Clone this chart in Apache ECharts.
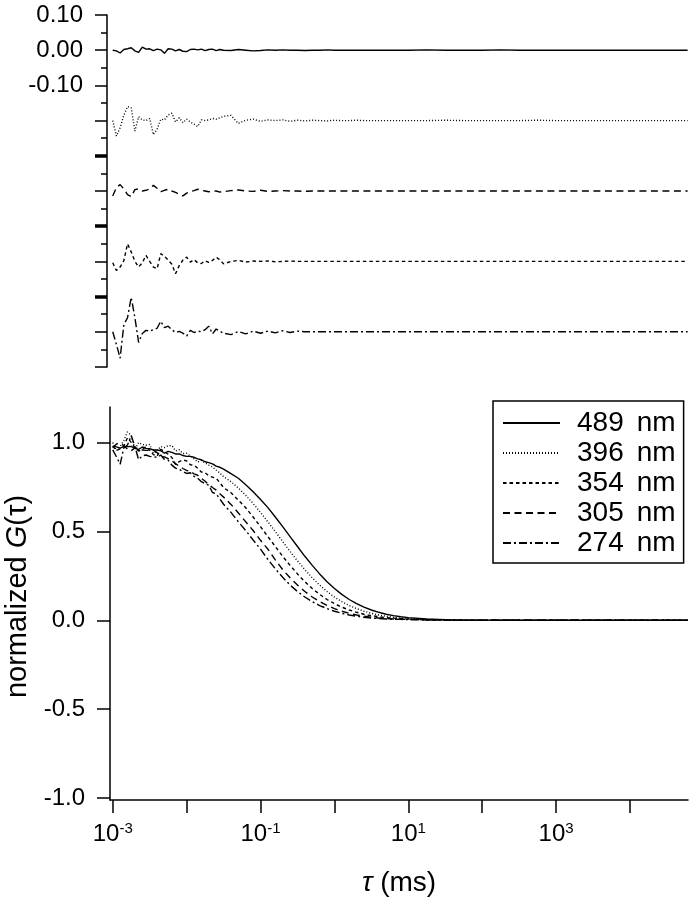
<!DOCTYPE html>
<html>
<head>
<meta charset="utf-8">
<title>normalized G(tau)</title>
<script src="https://cdn.jsdelivr.net/npm/echarts@6/dist/echarts.min.js"></script>
<style>
html, body { margin: 0; padding: 0; background: #fff; }
#main { width: 694px; height: 900px; }
</style>
</head>
<body>
<div id="main"></div>
<script>
// lag time positions, log10(tau / ms)
var tauExp = [-3.00,-2.95,-2.90,-2.85,-2.80,-2.75,-2.70,-2.65,-2.60,-2.55,-2.50,-2.45,-2.40,-2.35,-2.30,-2.25,-2.20,-2.15,-2.10,-2.05,-2.00,-1.95,-1.90,-1.85,-1.80,-1.75,-1.70,-1.65,-1.60,-1.55,-1.50,
  -1.4,-1.3,-1.2,-1.1,-1.0,-0.9,-0.8,-0.7,-0.6,-0.5,-0.4,-0.3,-0.2,-0.1,0,0.1,0.2,0.3,0.4,0.5,0.6,0.7,0.8,0.9,1.0,
  1.25,1.5,1.75,2.0,2.25,2.5,2.75,3.0,3.25,3.5,3.75,4.0,4.25,4.5,4.78];

var names = ['489 nm', '396 nm', '354 nm', '305 nm', '274 nm'];

// normalized G(tau), lower panel
var g489 = [.980,.976,.969,.977,.977,.978,.967,.961,.975,.967,.966,.958,.959,.954,.941,.950,.945,.936,.936,.927,.922,.922,.917,.908,.903,.892,.887,.880,.867,.861,.850,
  .825,.799,.763,.723,.680,.634,.581,.527,.471,.415,.360,.309,.261,.217,.179,.146,.117,.094,.074,.058,.045,.034,.026,.020,.015,
  .007,.003,.001,.001,0,0,0,0,0,0,0,0,0,0,0];
var g396 = [1.000,.955,.978,1.011,1.060,1.040,.961,1.000,.989,.985,.989,.940,.952,.978,.972,.982,.983,.953,.959,.938,.940,.924,.908,.891,.899,.885,.873,.863,.845,.828,.808,
  .780,.744,.703,.657,.607,.554,.499,.443,.387,.334,.285,.239,.198,.162,.131,.105,.083,.066,.051,.039,.030,.023,.017,.013,.010,
  .005,.002,.001,0,0,0,0,0,0,0,0,0,0,0,0];
var g354 = [.980,.956,.965,.981,1.027,1.001,.971,.952,.961,.978,.957,.932,.923,.962,.950,.934,.916,.877,.893,.902,.897,.875,.873,.855,.834,.830,.813,.805,.799,.774,.746,
  .718,.676,.633,.581,.527,.471,.415,.360,.309,.261,.217,.179,.146,.117,.094,.074,.058,.045,.034,.026,.020,.015,.012,.009,.007,
  .003,.001,0,0,0,0,0,0,0,0,0,0,0,0,0];
var g305 = [.970,.992,.997,.982,.963,.954,.970,.968,.958,.956,.956,.957,.943,.922,.919,.910,.898,.881,.867,.854,.843,.838,.824,.816,.799,.782,.763,.747,.732,.712,.693,
  .652,.604,.554,.505,.450,.400,.340,.285,.239,.198,.162,.131,.105,.083,.066,.051,.039,.030,.023,.017,.013,.010,.007,.006,.005,
  .002,.001,0,0,0,0,0,0,0,0,0,0,0,0,0];
var g274 = [.959,.920,.878,.970,.986,1.040,.978,.904,.925,.930,.922,.920,.917,.930,.905,.901,.873,.856,.850,.836,.826,.830,.810,.799,.780,.769,.760,.719,.711,.683,.653,
  .607,.554,.505,.452,.400,.342,.290,.242,.198,.162,.131,.105,.083,.066,.051,.039,.030,.023,.017,.013,.010,.007,.006,.005,.004,
  .002,.001,0,0,0,0,0,0,0,0,0,0,0,0,0];

// fit residuals, upper panel (top to bottom: 489, 396, 305, 354, 274)
var res489 = [0,-.002,-.008,.002,.004,.007,-.002,-.006,.009,.003,.004,-.001,.003,.001,-.009,.004,.003,-.002,.002,-.003,-.004,.002,.003,.001,.003,-.001,.002,.003,-.001,.002,0,
  -.001,.002,0,-.002,-.001,.001,0,.001,0,0,-.001,0,0,.001,0,0,0,0,0,0,0,0,0,0,0,
  .001,0,0,0,.001,0,0,0,0,0,0,0,0,0,0];
var res396 = [0,-.044,-.020,.015,.040,.036,-.030,.011,.002,0,.006,-.040,-.025,.004,.002,.016,.021,-.004,.008,-.006,.004,-.004,-.010,-.017,.002,0,.002,.006,.004,.008,.012,
  .015,-.008,.001,.004,-.002,.002,0,.002,-.002,.001,-.001,.001,0,-.001,.001,0,0,.001,0,0,0,0,0,0,0,
  0,.001,0,0,0,0,.001,0,0,0,0,0,0,0,0];
var res305 = [-.014,.010,.018,.006,-.010,-.016,.004,.006,0,.002,.006,.016,.008,-.002,.002,.005,0,-.004,-.010,-.014,-.006,-.002,.001,.005,.002,0,-.002,-.001,0,-.003,-.002,
  .001,.003,0,-.001,.002,-.001,0,.001,0,0,-.001,0,0,0,0,0,0,0,0,0,0,0,0,0,0,
  0,0,0,0,0,0,0,0,0,0,0,0,0,0,0];
var res354 = [-.004,-.026,-.016,.002,.050,.027,0,-.016,-.004,.017,0,-.016,-.021,.022,.014,.004,-.008,-.035,-.012,.004,.012,-.002,.005,-.004,-.006,.002,-.003,.003,.012,.004,-.007,
  0,.003,-.002,.001,0,.001,-.001,0,.001,0,0,0,0,0,0,0,0,0,0,0,0,0,0,0,0,
  0,0,0,0,0,0,0,0,0,0,0,0,0,0,0];
var res274 = [0,-.036,-.075,.020,.040,.098,.040,-.030,-.005,.004,.002,.006,.010,.030,.012,.016,.006,-.002,.001,-.004,-.012,.004,-.002,.002,0,.006,.016,-.006,.008,.002,-.004,
  -.008,.001,-.006,.002,-.004,.002,-.003,.003,-.002,.002,0,0,0,0,0,0,0,0,0,0,0,0,0,0,0,
  0,0,0,0,0,0,0,0,0,0,0,0,0,0,0];

// tick values
var xTicks = [1e-3, 1e-2, 1e-1, 1, 10, 100, 1e3, 1e4];
var xLabels = [1e-3, 1e-1, 10, 1e3];
var gTicks = [-1, -0.5, 0, 0.5, 1];
var resLabels = [0.1, 0, -0.1];
var resMajor = [0.1, 0, -0.1, -0.2, -0.3, -0.4, -0.5, -0.6, -0.7, -0.8, -0.9];
var resMinor = [0.05, -0.05, -0.15, -0.25, -0.35, -0.45, -0.55, -0.65, -0.75, -0.85];
var resJoins = [-0.3, -0.5, -0.7];

var font = 'Liberation Sans, Arial, Helvetica, sans-serif';
var dash = {
  '489 nm': 'solid',
  '396 nm': [1, 2],
  '354 nm': [3.5, 3],
  '305 nm': [7, 4.5],
  '274 nm': [8, 3, 2, 3]
};

function pts(vals, offset) {
  return tauExp.map(function (e, i) {
    return [Math.pow(10, e), vals[i] + offset];
  });
}

var xMin = Math.pow(10, -3.037), xMax = Math.pow(10, 4.785);
var black = { color: '#000', width: 1.5 };

var chart = echarts.init(document.getElementById('main'));

var series = [];
var gData = { '489 nm': g489, '396 nm': g396, '354 nm': g354, '305 nm': g305, '274 nm': g274 };
names.forEach(function (n) {
  series.push({
    name: n, type: 'line', xAxisIndex: 1, yAxisIndex: 3,
    data: pts(gData[n], 0), symbol: 'none', showSymbol: false,
    itemStyle: { color: '#000' },
    lineStyle: { color: '#000', width: 1.4, type: dash[n] }
  });
});
var resTraces = [['489 nm', res489, 0], ['396 nm', res396, -0.2], ['305 nm', res305, -0.4],
  ['354 nm', res354, -0.6], ['274 nm', res274, -0.8]];
resTraces.forEach(function (t) {
  series.push({
    name: 'res ' + t[0], type: 'line', xAxisIndex: 0, yAxisIndex: 0,
    data: pts(t[1], t[2]), symbol: 'none', showSymbol: false,
    itemStyle: { color: '#000' },
    lineStyle: { color: '#000', width: 1.4, type: dash[t[0]] }
  });
});

var option = {
  animation: false,
  backgroundColor: '#fff',
  textStyle: { fontFamily: font },
  grid: [
    { left: 110, right: 6, top: 15, height: 352, outerBoundsMode: 'none', containLabel: false },
    { left: 110, right: 6, top: 407, height: 393, outerBoundsMode: 'none', containLabel: false }
  ],
  legend: {
    data: names, orient: 'vertical', left: 493, top: 401,
    itemWidth: 57, itemHeight: 14, itemGap: 2,
    padding: [8, 8, 6, 9],
    borderColor: '#000', borderWidth: 1.5, backgroundColor: '#fff',
    selectedMode: false,
    itemStyle: { opacity: 0 },
    formatter: function (n) {
      var p = n.split(' ');
      return '{n|' + p[0] + '}{u|' + p[1] + '}';
    },
    textStyle: {
      color: '#000', fontFamily: font, fontSize: 28, lineHeight: 28,
      rich: {
        n: { fontFamily: font, fontSize: 28, lineHeight: 28, padding: [0, 0, 0, 12] },
        u: { fontFamily: font, fontSize: 28, lineHeight: 28, padding: [0, 0, 0, 13] }
      }
    }
  },
  xAxis: [
    { gridIndex: 0, type: 'log', min: xMin, max: xMax, show: false },
    {
      gridIndex: 1, type: 'log', min: xMin, max: xMax,
      axisLine: { onZero: false, lineStyle: black },
      axisTick: { customValues: xTicks, length: 13, lineStyle: black },
      splitLine: { show: false },
      minorTick: { show: false },
      axisLabel: {
        customValues: xLabels, margin: 21, color: '#000',
        formatter: function (v) {
          return '{b|10}{s|' + Math.round(Math.log10(v)) + '}';
        },
        rich: {
          b: { fontFamily: font, fontSize: 24, lineHeight: 26, color: '#000' },
          s: { fontFamily: font, fontSize: 15, lineHeight: 15, color: '#000', verticalAlign: 'top' }
        }
      },
      name: '{i|τ} (ms)', nameLocation: 'middle', nameGap: 69,
      nameTextStyle: {
        fontFamily: font, fontSize: 28, color: '#000',
        rich: { i: { fontFamily: font, fontSize: 28, fontStyle: 'italic', color: '#000' } }
      }
    }
  ],
  yAxis: [
    {
      gridIndex: 0, type: 'value', min: -0.9, max: 0.1, position: 'left', offset: 3,
      axisLine: { onZero: false, lineStyle: black },
      axisTick: { customValues: resMajor, length: 12, lineStyle: black },
      splitLine: { show: false },
      axisLabel: {
        customValues: resLabels, margin: 24, color: '#000', fontFamily: font, fontSize: 24,
        formatter: function (v) { return v.toFixed(2); }
      }
    },
    {
      gridIndex: 0, type: 'value', min: -0.9, max: 0.1, position: 'left', offset: 3,
      axisLine: { show: false },
      axisTick: { customValues: resMinor, length: 6, lineStyle: black },
      axisLabel: { show: false }, splitLine: { show: false }
    },
    {
      gridIndex: 0, type: 'value', min: -0.9, max: 0.1, position: 'left', offset: 3,
      axisLine: { show: false },
      axisTick: { customValues: resJoins, length: 12, lineStyle: { color: '#000', width: 3.5 } },
      axisLabel: { show: false }, splitLine: { show: false }
    },
    {
      gridIndex: 1, type: 'value', min: -1.011, max: 1.2, position: 'left',
      axisLine: { onZero: false, lineStyle: black },
      axisTick: { customValues: gTicks, length: 13, lineStyle: black },
      splitLine: { show: false },
      axisLabel: {
        customValues: gTicks, margin: 25, color: '#000', fontFamily: font, fontSize: 24,
        formatter: function (v) { return v.toFixed(1); }
      },
      name: 'normalized {i|G}(τ)', nameLocation: 'middle', nameGap: 70,
      nameTextStyle: {
        fontFamily: font, fontSize: 29, color: '#000', padding: [0, 0, 0, 14],
        rich: { i: { fontFamily: font, fontSize: 29, fontStyle: 'italic', color: '#000' } }
      }
    }
  ],
  series: series
};

chart.setOption(option);
</script>
</body>
</html>
